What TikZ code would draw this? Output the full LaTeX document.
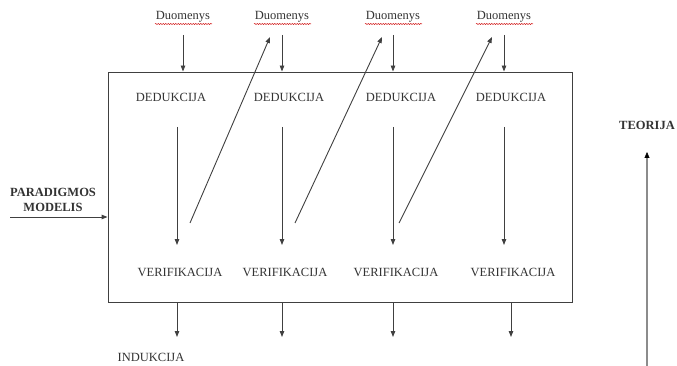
\documentclass[tikz,border=0pt]{standalone}
\usepackage{fontspec}
\setmainfont{Liberation Serif}
\usepackage{xcolor}
\usetikzlibrary{positioning}
\usetikzlibrary{decorations.pathmorphing}
\usetikzlibrary{arrows.meta}
\definecolor{linegray}{rgb}{0.25,0.25,0.25}
\tikzstyle{lbl} = [inner sep=0pt, text=black!80, font=\fontsize{12.5}{14}\selectfont]
\tikzstyle{boldlbl} = [lbl, font=\fontsize{12.5}{15}\selectfont\bfseries, align=center]
\tikzstyle{arrow} = [draw=linegray, line width=0.9pt, -{Triangle[length=6pt,width=4.5pt]}]
\tikzstyle{spell} = [red!80!black, line width=0.5pt, decorate, decoration={snake, amplitude=0.5pt, segment length=2.5pt}]

\begin{document}
\begin{tikzpicture}[x=1pt,y=-1pt]
      \useasboundingbox (0,0) rectangle (677,366);
      \node[draw=linegray, line width=0.9pt, minimum width=464pt, minimum height=230pt, inner sep=0pt] (box) at (340,187) {};
      \node[lbl, font=\fontsize{12.5}{13}\selectfont] (dm1) at (183,17) {Duomenys};
      \node[lbl, font=\fontsize{12.5}{13}\selectfont] (dm2) at (282,17) {Duomenys};
      \node[lbl, font=\fontsize{12.5}{13}\selectfont] (dm3) at (393,17) {Duomenys};
      \node[lbl, font=\fontsize{12.5}{13}\selectfont] (dm4) at (504,17) {Duomenys};
      \node[lbl] (d1) at (171,97) {DEDUKCIJA};
      \node[lbl] (d2) at (289,97) {DEDUKCIJA};
      \node[lbl] (d3) at (401,97) {DEDUKCIJA};
      \node[lbl] (d4) at (511,97) {DEDUKCIJA};
      \node[lbl] (v1) at (180,272) {VERIFIKACIJA};
      \node[lbl] (v2) at (285,272) {VERIFIKACIJA};
      \node[lbl] (v3) at (396,272) {VERIFIKACIJA};
      \node[lbl] (v4) at (513,272) {VERIFIKACIJA};
      \node[lbl] (ind) at (151,357) {INDUKCIJA};
      \node[boldlbl] (par) at (53,200) {PARADIGMOS\\MODELIS};
      \node[boldlbl] (teo) at (647,125) {TEORIJA};
      %spelling marks
      \draw[spell] (155,24)--(212,24);
      \draw[spell] (254,24)--(311,24);
      \draw[spell] (365,24)--(422,24);
      \draw[spell] (476,24)--(533,24);
      %end points
      \coordinate (t1) at (183,35);
      \coordinate (t2) at (282,35);
      \coordinate (t3) at (393,35);
      \coordinate (t4) at (504,35);
      \coordinate (a1) at (177,127);
      \coordinate (a2) at (282,127);
      \coordinate (a3) at (393,127);
      \coordinate (a4) at (504,127);
      \coordinate (b1) at (177,245);
      \coordinate (b2) at (282,245);
      \coordinate (b3) at (393,245);
      \coordinate (b4) at (504,245);
      \coordinate (s1) at (190,223);
      \coordinate (s2) at (295,223);
      \coordinate (s3) at (399,223);
      \coordinate (e1) at (270,37);
      \coordinate (e2) at (382,37);
      \coordinate (e3) at (492,37);
      \coordinate (o1) at (177,337);
      \coordinate (o2) at (282,337);
      \coordinate (o3) at (393,337);
      \coordinate (o4) at (511,337);
      \coordinate (pin) at (10,217);
      \coordinate (tin) at (647,366);
      \coordinate (tout) at (647,152);
      \draw[arrow] (t1)--(t1 |- box.north);
      \draw[arrow] (t2)--(t2 |- box.north);
      \draw[arrow] (t3)--(t3 |- box.north);
      \draw[arrow] (t4)--(t4 |- box.north);
      \draw[arrow] (a1)--(b1);
      \draw[arrow] (a2)--(b2);
      \draw[arrow] (a3)--(b3);
      \draw[arrow] (a4)--(b4);
      \draw[arrow] (s1)--(e1);
      \draw[arrow] (s2)--(e2);
      \draw[arrow] (s3)--(e3);
      \draw[arrow] (o1 |- box.south)--(o1);
      \draw[arrow] (o2 |- box.south)--(o2);
      \draw[arrow] (o3 |- box.south)--(o3);
      \draw[arrow] (o4 |- box.south)--(o4);
      \draw[arrow] (pin)--(pin -| box.west);
      \draw[draw=black!45, line width=1.6pt, -{Triangle[length=6pt,width=5pt,color=black,line width=0.4pt]}] (tin)--(tout);
\end{tikzpicture}
\end{document}
